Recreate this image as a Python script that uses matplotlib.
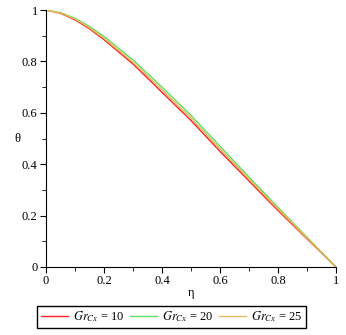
import matplotlib
matplotlib.use("Agg")
import matplotlib.pyplot as plt
from matplotlib.ticker import MultipleLocator, FuncFormatter

plt.rcParams['font.family'] = ['Liberation Serif', 'DejaVu Serif']
plt.rcParams['mathtext.fontset'] = 'stix'

# values
eta = [0.0, 0.05, 0.1, 0.15, 0.2, 0.3, 0.4, 0.5, 0.6, 0.7, 0.8, 0.9, 1.0]
theta_gr10 = [1.0, 0.987, 0.962, 0.927, 0.885, 0.79, 0.68, 0.57, 0.45, 0.335, 0.22, 0.11, 0.0]
theta_gr20 = [1.0, 0.99, 0.968, 0.936, 0.897, 0.806, 0.70, 0.59, 0.47, 0.35, 0.232, 0.116, 0.0]
theta_gr25 = [1.0, 0.988, 0.965, 0.931, 0.89, 0.797, 0.69, 0.58, 0.46, 0.342, 0.226, 0.113, 0.0]
labels = [r'$Gr_{Cx}$ = 10', r'$Gr_{Cx}$ = 20', r'$Gr_{Cx}$ = 25']
colors = ['#ff2020', '#5ee05e', '#e8b860']


def fmt(v, pos):
    s = f"{v:.1f}"
    if s.endswith(".0"):
        s = s[:-2]
    return s


fig = plt.figure(figsize=(3.46, 3.35), dpi=100)
ax = fig.add_axes([0.133, 0.203, 0.838, 0.767])

for th, lab, c in zip([theta_gr10, theta_gr20, theta_gr25], labels, colors):
    ax.plot(eta, th, color=c, lw=1.0, label=lab)

ax.set_xlim(0, 1)
ax.set_ylim(0, 1)
ax.spines['top'].set_visible(False)
ax.spines['right'].set_visible(False)
ax.xaxis.set_major_locator(MultipleLocator(0.2))
ax.xaxis.set_minor_locator(MultipleLocator(0.1))
ax.yaxis.set_major_locator(MultipleLocator(0.2))
ax.yaxis.set_minor_locator(MultipleLocator(0.1))
ax.xaxis.set_major_formatter(FuncFormatter(fmt))
ax.yaxis.set_major_formatter(FuncFormatter(fmt))
ax.tick_params(which='major', length=4, labelsize=9, pad=2)
ax.tick_params(which='minor', length=3)

ax.set_xlabel('η', fontsize=9, labelpad=0)
ax.set_ylabel('θ', fontsize=9, rotation=0, labelpad=3, va='center')

fig.legend(loc='center', bbox_to_anchor=(0.496, 0.054), ncol=3, fontsize=9,
           fancybox=False, edgecolor='black', framealpha=1, handlelength=2.2,
           columnspacing=0.4, handletextpad=0.4, borderpad=0.3, borderaxespad=0)

fig.savefig('out.png', dpi=100)
